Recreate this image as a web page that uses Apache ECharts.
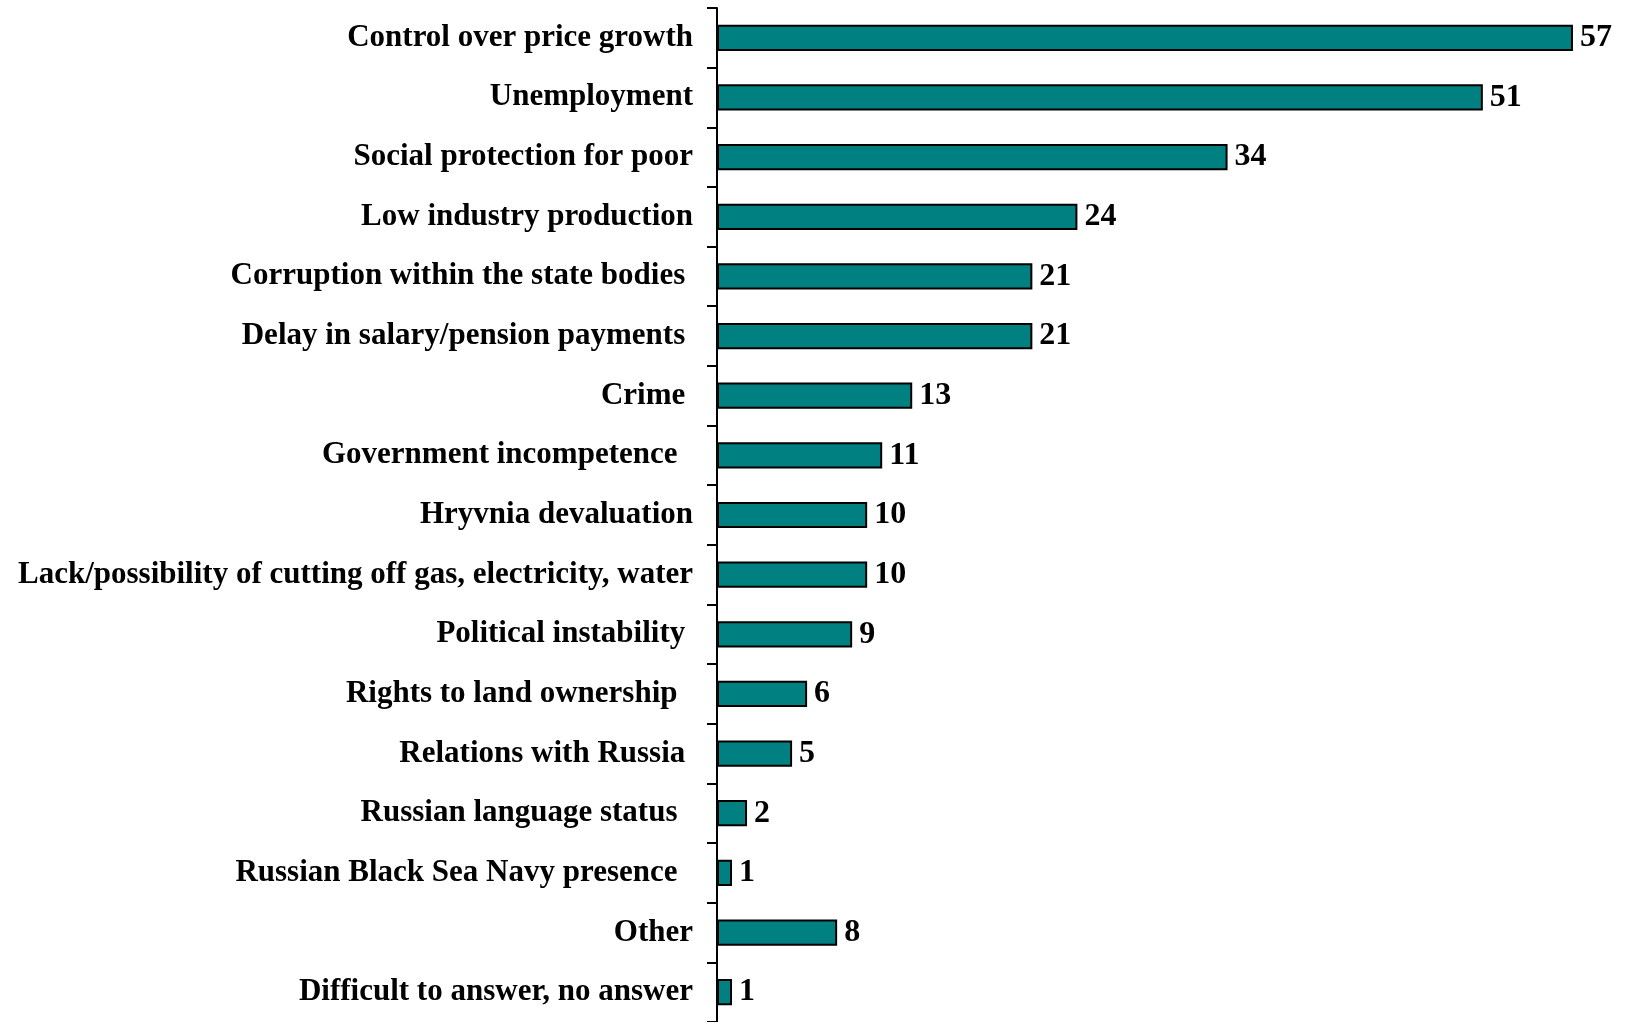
<!DOCTYPE html>
<html><head><meta charset="utf-8">
<script src="https://cdn.jsdelivr.net/npm/echarts@6/dist/echarts.min.js"></script>
<style>html,body{margin:0;padding:0;background:#fff}#c{width:1625px;height:1022px}</style>
</head><body><div id="c"></div>
<script>
const categories = [
  "Control over price growth",
  "Unemployment",
  "Social protection for poor",
  "Low industry production",
  "Corruption within the state bodies ",
  "Delay in salary/pension payments ",
  "Crime ",
  "Government incompetence  ",
  "Hryvnia devaluation",
  "Lack/possibility of cutting off gas, electricity, water",
  "Political instability ",
  "Rights to land ownership  ",
  "Relations with Russia ",
  "Russian language status  ",
  "Russian Black Sea Navy presence  ",
  "Other",
  "Difficult to answer, no answer"
];
const values = [57, 51, 34, 24, 21, 21, 13, 11, 10, 10, 9, 6, 5, 2, 1, 8, 1];

const chart = echarts.init(document.getElementById('c'), null, {renderer: 'canvas'});
const font = '"Liberation Serif", "Times New Roman", serif';
chart.setOption({
  animation: false,
  grid: {left: 717, right: 7, top: 8, bottom: -1, containLabel: false},
  xAxis: {
    type: 'value', min: 0, max: 60, show: false
  },
  yAxis: {
    type: 'category', data: categories, inverse: true,
    axisLine: {show: true, lineStyle: {color: '#000', width: 2}},
    axisTick: {show: true, length: 10, lineStyle: {color: '#000', width: 2}},
    axisLabel: {color: '#000', fontFamily: font, fontWeight: 'bold', fontSize: 31, margin: 24, padding: [12, 0, 0, 0]}
  },
  series: [{
    type: 'bar', data: values, barWidth: '44%',
    itemStyle: {color: '#008080', borderColor: '#000', borderWidth: 2},
    label: {show: true, position: 'right', distance: 7, color: '#000', fontFamily: font, fontWeight: 'bold', fontSize: 32, padding: [6, 0, 0, 0]}
  }]
});
</script></body></html>
